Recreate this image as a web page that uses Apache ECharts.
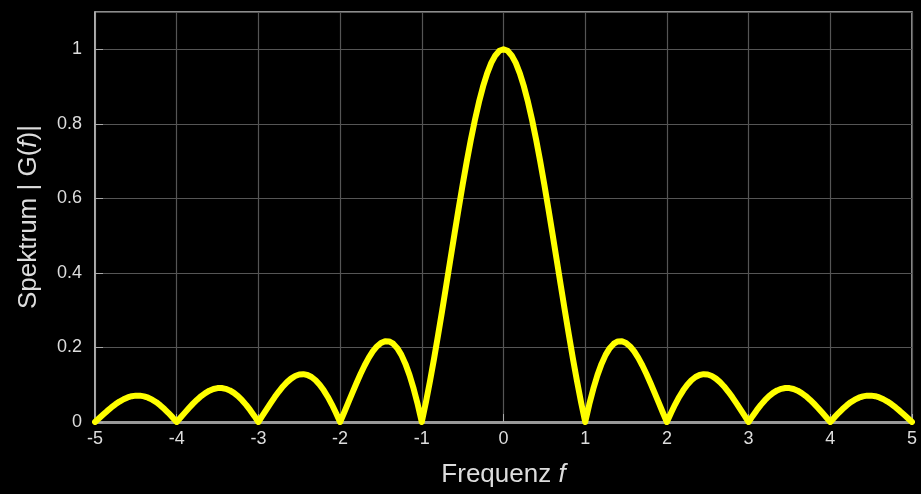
<!DOCTYPE html>
<html>
<head>
<meta charset="utf-8">
<script src="https://cdn.jsdelivr.net/npm/echarts@6/dist/echarts.min.js"></script>
<style>html,body{margin:0;padding:0;background:#000;}#c{width:921px;height:494px;}</style>
</head>
<body>
<div id="c"></div>
<script>
var freq = [
-5,-4.95,-4.9,-4.85,-4.8,-4.75,-4.7,-4.65,-4.6,-4.55,-4.5,-4.45,-4.4,-4.35,-4.3,-4.25,-4.2,-4.15,-4.1,-4.05,
-4,-3.95,-3.9,-3.85,-3.8,-3.75,-3.7,-3.65,-3.6,-3.55,-3.5,-3.45,-3.4,-3.35,-3.3,-3.25,-3.2,-3.15,-3.1,-3.05,
-3,-2.95,-2.9,-2.85,-2.8,-2.75,-2.7,-2.65,-2.6,-2.55,-2.5,-2.45,-2.4,-2.35,-2.3,-2.25,-2.2,-2.15,-2.1,-2.05,
-2,-1.95,-1.9,-1.85,-1.8,-1.75,-1.7,-1.65,-1.6,-1.55,-1.5,-1.45,-1.4,-1.35,-1.3,-1.25,-1.2,-1.15,-1.1,-1.05,
-1,-0.95,-0.9,-0.85,-0.8,-0.75,-0.7,-0.65,-0.6,-0.55,-0.5,-0.45,-0.4,-0.35,-0.3,-0.25,-0.2,-0.15,-0.1,-0.05,
0,
0.05,0.1,0.15,0.2,0.25,0.3,0.35,0.4,0.45,0.5,0.55,0.6,0.65,0.7,0.75,0.8,0.85,0.9,0.95,1,
1.05,1.1,1.15,1.2,1.25,1.3,1.35,1.4,1.45,1.5,1.55,1.6,1.65,1.7,1.75,1.8,1.85,1.9,1.95,2,
2.05,2.1,2.15,2.2,2.25,2.3,2.35,2.4,2.45,2.5,2.55,2.6,2.65,2.7,2.75,2.8,2.85,2.9,2.95,3,
3.05,3.1,3.15,3.2,3.25,3.3,3.35,3.4,3.45,3.5,3.55,3.6,3.65,3.7,3.75,3.8,3.85,3.9,3.95,4,
4.05,4.1,4.15,4.2,4.25,4.3,4.35,4.4,4.45,4.5,4.55,4.6,4.65,4.7,4.75,4.8,4.85,4.9,4.95,5];
var spectrum = [
0,0.0101,0.0201,0.0298,0.0390,0.0474,0.0548,0.0610,0.0658,0.0691,0.0707,0.0707,0.0688,0.0652,0.0599,0.0530,0.0445,0.0348,0.0240,0.0123,
0,0.0126,0.0252,0.0375,0.0492,0.0600,0.0696,0.0777,0.0841,0.0886,0.0909,0.0911,0.0890,0.0847,0.0780,0.0693,0.0585,0.0459,0.0317,0.0163,
0,0.0169,0.0339,0.0507,0.0668,0.0818,0.0954,0.1070,0.1164,0.1233,0.1273,0.1283,0.1261,0.1207,0.1120,0.1000,0.0850,0.0672,0.0468,0.0243,
0,0.0255,0.0518,0.0781,0.1039,0.1286,0.1515,0.1719,0.1892,0.2028,0.2122,0.2168,0.2162,0.2101,0.1981,0.1801,0.1559,0.1257,0.0894,0.0474,
0,0.0524,0.1093,0.1700,0.2339,0.3001,0.3679,0.4363,0.5046,0.5716,0.6366,0.6986,0.7568,0.8103,0.8584,0.9003,0.9355,0.9634,0.9836,0.9959,
1,
0.9959,0.9836,0.9634,0.9355,0.9003,0.8584,0.8103,0.7568,0.6986,0.6366,0.5716,0.5046,0.4363,0.3679,0.3001,0.2339,0.1700,0.1093,0.0524,0,
0.0474,0.0894,0.1257,0.1559,0.1801,0.1981,0.2101,0.2162,0.2168,0.2122,0.2028,0.1892,0.1719,0.1515,0.1286,0.1039,0.0781,0.0518,0.0255,0,
0.0243,0.0468,0.0672,0.0850,0.1000,0.1120,0.1207,0.1261,0.1283,0.1273,0.1233,0.1164,0.1070,0.0954,0.0818,0.0668,0.0507,0.0339,0.0169,0,
0.0163,0.0317,0.0459,0.0585,0.0693,0.0780,0.0847,0.0890,0.0911,0.0909,0.0886,0.0841,0.0777,0.0696,0.0600,0.0492,0.0375,0.0252,0.0126,0,
0.0123,0.0240,0.0348,0.0445,0.0530,0.0599,0.0652,0.0688,0.0707,0.0707,0.0691,0.0658,0.0610,0.0548,0.0474,0.0390,0.0298,0.0201,0.0101,0];
var xTicks = [-5,-4,-3,-2,-1,0,1,2,3,4,5];
var yTicks = [0,0.2,0.4,0.6,0.8,1];

var pts = freq.map(function(f,i){return [f, spectrum[i]];});
var font = 'Liberation Sans, Arial, sans-serif';
var nameRich = {a:{color:'#ddd',fontSize:26,fontFamily:font},i:{color:'#ddd',fontSize:26,fontFamily:font,fontStyle:'italic'}};
var chart = echarts.init(document.getElementById('c'));
chart.setOption({
  backgroundColor:'#000',
  animation:false,
  grid:{left:95,right:9,top:12,bottom:72,show:true,borderColor:'#bbb',borderWidth:1.5,backgroundColor:'#000'},
  xAxis:{type:'value',min:-5,max:5,interval:1,
    name:'{a|Frequenz }{i|f}',nameLocation:'middle',nameGap:40,
    nameTextStyle:{rich:nameRich},
    axisLine:{show:true,lineStyle:{color:'#999',width:3}},
    axisTick:{show:true,inside:true,length:8,lineStyle:{color:'#aaa'}},
    axisLabel:{color:'#ddd',fontSize:18,fontFamily:font,margin:8,formatter:function(v){return xTicks.indexOf(v)>=0?String(v):'';}},
    splitLine:{show:true,lineStyle:{color:'#555',width:1.2}}},
  yAxis:{type:'value',min:0,max:1.1,interval:0.2,
    name:'{a|Spektrum | G(}{i|f}{a|)|}',nameLocation:'middle',nameGap:53,nameRotate:90,
    nameTextStyle:{rich:nameRich},
    axisLine:{show:true,onZero:false,lineStyle:{color:'#bbb',width:1.5}},
    axisTick:{show:true,inside:true,length:8,lineStyle:{color:'#aaa'}},
    axisLabel:{color:'#ddd',fontSize:18,fontFamily:font,margin:13,showMaxLabel:false,
      formatter:function(v){var r=Math.round(v*10)/10;return yTicks.indexOf(r)>=0?String(r):'';}},
    splitLine:{show:true,lineStyle:{color:'#555',width:1.2}}},
  series:[{type:'line',data:pts,showSymbol:false,smooth:false,
    lineStyle:{color:'#ffff00',width:6,cap:'round',join:'round'},z:5}]
});
</script>
</body>
</html>
